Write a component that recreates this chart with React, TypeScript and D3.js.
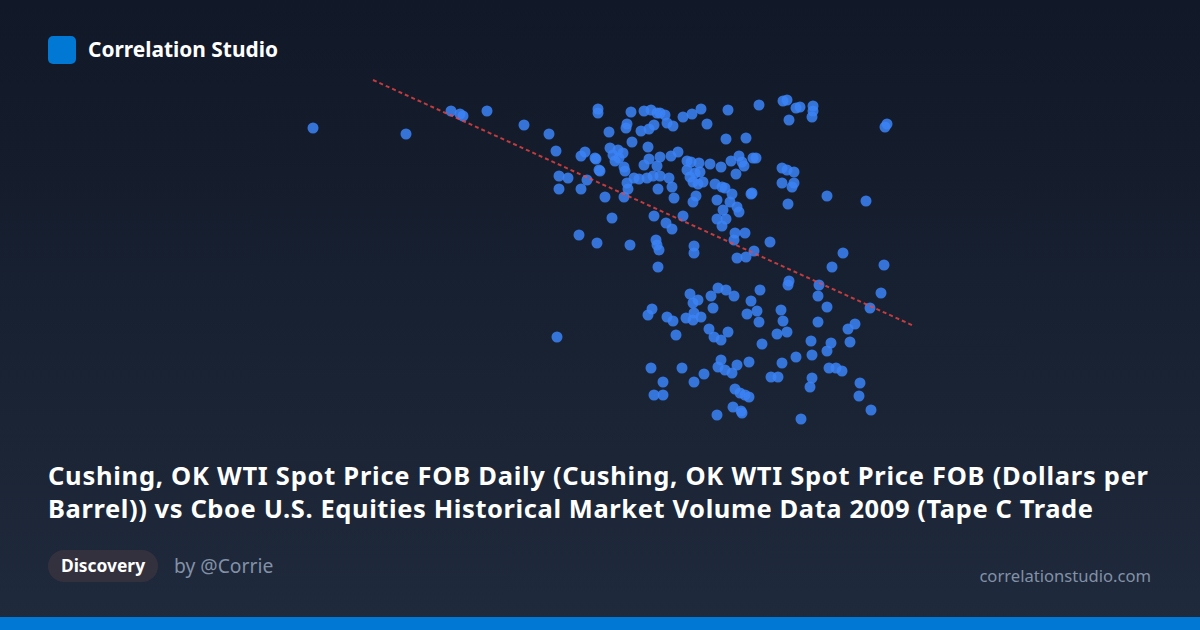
import React from "react";
import * as d3 from "d3";

// WTI spot price (USD/bbl) per day
const wtiPrice: number[] = [
  31.3, 40.6, 45.1, 46.0, 46.3, 48.7, 52.4, 54.9, 55.6,
  59.8, 59.8, 60.9, 63.1, 64.4, 65.1, 65.7, 62.7, 62.6, 64.1, 64.9, 65.4, 63.2, 64.8,
  61.0, 61.8, 62.3, 58.5, 58.1, 59.5, 59.6, 61.3, 61.5, 61.9, 62.4, 62.5, 59.9, 60.0,
  55.9, 56.8, 58.7, 55.9, 58.1, 60.5, 62.4, 62.8, 62.7, 63.4, 63.9, 64.7, 65.3, 65.7,
  64.4, 64.9, 65.8, 65.4, 61.2,
  66.0, 66.5, 66.7, 67.3, 68.3, 69.2, 70.1, 72.8, 75.9, 78.3, 78.7, 79.6, 78.9, 70.7,
  72.6, 74.6, 67.8, 67.1, 66.0, 68.7, 69.1, 69.9, 71.0, 72.1, 73.1, 73.9, 74.2, 74.4,
  75.3, 75.6, 78.2, 78.7, 79.4, 78.2, 79.2, 79.4, 66.0, 66.9, 67.2, 68.7, 69.0, 69.5,
  70.0, 70.3, 69.3, 69.8, 72.2, 72.5, 71.5, 73.6, 75.2, 75.1, 73.0, 73.2, 71.7, 69.6,
  69.3, 67.4, 72.3, 73.7, 73.9, 78.8, 68.3,
  80.0, 81.3, 81.3, 81.2, 88.7, 88.5, 82.7, 86.6, 84.3, 83.2, 88.4,
  57.9, 59.7, 63.0, 66.6, 67.2, 65.6, 65.7, 65.9, 69.4, 69.4, 65.8, 55.7, 69.0, 69.8,
  69.3, 71.1, 71.8, 71.3, 65.2, 64.8, 66.7, 67.3, 68.6, 69.3, 69.4, 70.1, 70.9, 71.4,
  67.6,
  71.7, 72.6, 72.2, 73.5, 74.5, 73.4, 73.7, 74.6, 75.4, 77.0, 78.9, 78.8, 81.9, 81.8,
  82.7, 87.0, 88.1, 76.0, 75.1, 75.7, 74.7, 75.9, 78.1, 78.3, 77.7, 78.7, 76.2, 72.6,
  73.4, 72.8, 72.1, 81.8, 81.1, 83.1, 84.8, 85.5, 85.0,
  65.1, 66.3, 65.4, 66.3, 68.2, 69.4, 70.4, 71.8, 72.1, 72.5, 73.2, 73.7, 74.9, 73.5,
  74.0, 74.5, 74.9, 73.3, 74.1, 74.2, 71.7, 78.2, 77.1, 77.8, 79.6, 81.2, 82.7, 82.9,
  83.6, 84.2, 81.2, 81.0, 86.0, 85.9, 87.1, 80.1,
];

// Cboe U.S. equities Tape C trade volume (millions of shares)
const tapeCVolume: number[] = [
  322, 316, 339, 336, 334, 339, 325, 316, 299,
  341, 337, 318, 338, 339, 340, 337, 326, 322, 319, 321, 325, 308, 303,
  302, 300, 297, 298, 294, 292, 291, 295, 289, 292, 283, 279, 280, 279,
  274, 272, 270, 261, 261, 253, 253, 261, 267, 272, 271, 272, 274, 284,
  285, 291, 261, 234, 232,
  337, 335, 327, 324, 333, 336, 341, 340, 345, 349, 350, 342, 330, 326,
  311, 312, 298, 294, 293, 289, 288, 287, 286, 283, 289, 294, 288, 284,
  292, 292, 282, 280, 278, 267, 263, 267, 274, 272, 263, 280, 273, 277,
  278, 268, 268, 266, 263, 262, 266, 276, 257, 256, 248, 256, 250, 254,
  248, 252, 240, 243, 238, 246, 234,
  343, 344, 339, 333, 326, 323, 254, 249, 197, 183, 185,
  215, 207, 205, 227, 221, 210, 205, 200, 204, 197, 183, 113, 156, 150,
  147, 154, 162, 142, 141, 135, 133, 129, 132, 130, 137, 133, 121, 113,
  115,
  231, 231, 224, 217, 217, 210, 192, 193, 199, 208, 169, 165, 165, 154,
  143, 142, 157, 160, 149, 139, 136, 128, 140, 129, 116, 118, 106, 160,
  154, 118, 110, 128, 109, 107, 121, 126, 108,
  82, 68, 55, 55, 82, 68, 76, 83, 90, 80, 77, 85, 88, 61, 57, 55, 53, 43,
  39, 37, 35, 87, 73, 73, 93, 95, 99, 82, 82, 79, 72, 63, 67, 54, 40, 31,
];

// Trend line end points, in data units
const trendX: number[] = [37.3, 91.4];
const trendY: number[] = [370, 124];

const titleLines: string[] = [
  "Cushing, OK WTI Spot Price FOB Daily (Cushing, OK WTI Spot Price FOB (Dollars per",
  "Barrel)) vs Cboe U.S. Equities Historical Market Volume Data 2009 (Tape C Trade",
];
const titleWidths: number[] = [1100, 1045];

const W = 1200;
const H = 630;
const FONT = "'Segoe UI', 'Noto Sans', 'Open Sans', sans-serif";

export default function App() {
  const x = d3.scaleLinear().domain([30, 90]).range([300, 900]);
  const y = d3.scaleLinear().domain([0, 400]).range([450, 50]);
  const pts = wtiPrice.map((p, i) => [p, tapeCVolume[i]] as [number, number]);
  const trend = d3
    .line<number>()
    .x((_, i) => x(trendX[i]))
    .y((_, i) => y(trendY[i]))(trendX);

  return (
    <svg
      width={W}
      height={H}
      viewBox={`0 0 ${W} ${H}`}
      style={{ position: "fixed", left: 0, top: 0, display: "block" }}
    >
      <defs>
        <linearGradient id="bg" x1="0" y1="0" x2="0" y2="1">
          <stop offset="0%" stopColor="#111827" />
          <stop offset="100%" stopColor="#1f2a3c" />
        </linearGradient>
      </defs>
      <rect x={0} y={0} width={W} height={H} fill="url(#bg)" />

      {/* header */}
      <rect x={48} y={36} width={28} height={28} rx={5} fill="#0078d4" />
      <text x={88} y={57} fill="#ffffff" fontFamily={FONT} fontWeight={700} fontSize={20.9}>
        Correlation Studio
      </text>

      {/* scatter */}
      <g>
        {pts.map((d, i) => (
          <circle key={i} cx={x(d[0])} cy={y(d[1])} r={5.5} fill="#3b82f6" fillOpacity={0.85} />
        ))}
      </g>
      <path d={trend ?? ""} stroke="#ef4444" strokeOpacity={0.8} strokeWidth={2} strokeDasharray="4 3" fill="none" />

      {/* title */}
      {titleLines.map((t, i) => (
        <text
          key={i}
          x={48}
          y={485 + i * 33}
          fill="#ffffff"
          fontFamily={FONT}
          fontWeight={700}
          fontSize={25.5}
          textLength={titleWidths[i]}
        >
          {t}
        </text>
      ))}

      {/* footer */}
      <rect x={48} y={550} width={110} height={32} rx={16} fill="#34313f" />
      <text x={103} y={572} textAnchor="middle" fill="#ffffff" fontFamily={FONT} fontWeight={700} fontSize={17.4}>
        Discovery
      </text>
      <text x={174} y={573} fill="#8391a7" fontFamily={FONT} fontSize={19.3}>
        by @Corrie
      </text>
      <text x={1151} y={582} textAnchor="end" fill="#8391a7" fontFamily={FONT} fontSize={16.6}>
        correlationstudio.com
      </text>
      <rect x={0} y={617} width={W} height={13} fill="#0078d4" />
    </svg>
  );
}
